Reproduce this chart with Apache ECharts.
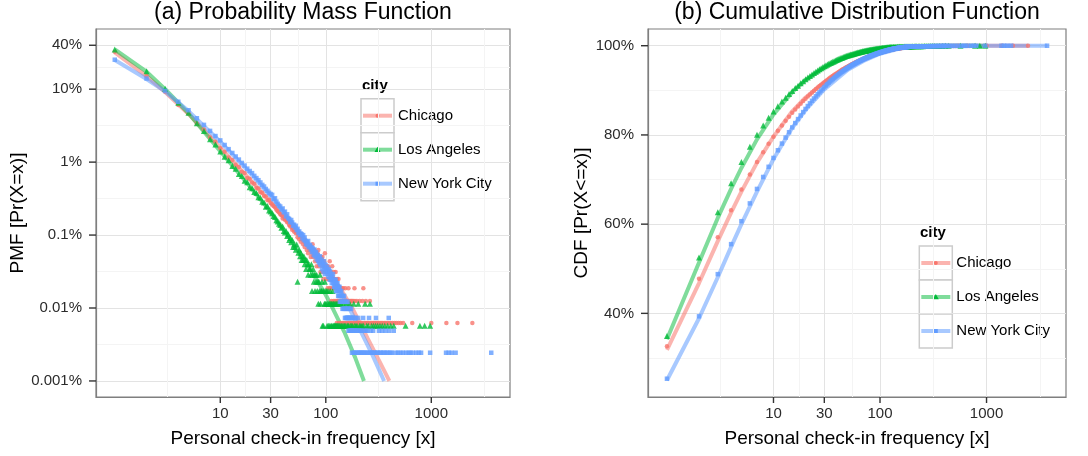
<!DOCTYPE html>
<html><head><meta charset="utf-8">
<script src="https://cdn.jsdelivr.net/npm/echarts@6/dist/echarts.min.js"></script>
<style>html,body{margin:0;padding:0;background:#fff}#c{width:1088px;height:456px}</style>
</head><body><div id="c"></div>
<script>
// ---------------- data ----------------
const cities = ['Chicago', 'Los Angeles', 'New York City'];
const panelTitles = ['(a) Probability Mass Function', '(b) Cumulative Distribution Function'];
const xAxisTitle = 'Personal check-in frequency [x]';
const yAxisTitles = ['PMF [Pr(X=x)]', 'CDF [Pr(X<=x)]'];
const legendTitle = 'city';

const xTickValues = [10, 30, 100, 1000];
const xTickLabels = ['10', '30', '100', '1000'];
const pmfTickValues = [0.4, 0.1, 0.01, 0.001, 0.0001, 0.00001];
const pmfTickLabels = ['40%', '10%', '1%', '0.1%', '0.01%', '0.001%'];
const cdfTickValues = [0.4, 0.6, 0.8, 1.0];
const cdfTickLabels = ['40%', '60%', '80%', '100%'];

// number of users with x check-ins, x = 1..100
const chicagoHead = [
 5230,2430,1490,975,745,540,450,350,305,248,
 222,186,172,146,138,118,114,97,95,84,
 81,71,70,62,61,55,54,48,49,44,
 42,40,39,36,34,33,31,30,27,29,
 26,27,24,25,22,21,23,19,20,18,
 19,17,18,15,17,14,16,13,15,14,
 12,14,11,13,12,10,12,9,11,10,
 11,8,10,9,12,8,9,10,7,9,
 8,6,9,7,10,6,8,7,5,8,
 7,5,8,6,4,7,5,9,6,5];
const laHead = [
 6124,3080,1780,1140,835,598,470,362,305,245,
 208,186,155,142,120,113,97,93,79,77,
 68,66,58,57,50,49,43,44,38,37,
 35,32,31,28,27,25,24,22,23,20,
 19,20,17,18,15,16,14,15,12,13,
 12,11,13,4,10,11,9,10,8,9,
 8,9,7,8,6,8,7,5,7,6,
 6,5,7,3,5,6,4,5,3,5,
 4,5,3,4,2,4,3,5,2,3,
 3,4,1,3,1,3,2,4,2,3];
const nycHead = [
 10400,5740,3880,2760,2110,1640,1330,1100,935,815,
 705,618,548,490,445,400,368,334,310,290,
 266,248,232,216,200,190,176,166,156,150,
 146,128,131,118,110,104,101,92,95,84,
 86,74,79,70,68,62,66,61,55,57,
 52,55,48,50,44,46,41,43,42,37,
 41,35,38,34,31,33,30,34,28,29,
 30,26,28,24,27,25,22,26,21,23,
 24,19,21,22,18,20,17,21,16,18,
 19,14,17,16,13,18,15,12,16,14];

// [x, number of users] for x > 100
const chicagoTail = [
 [101,4],[102,6],[103,5],[104,3],[105,6],[106,4],[107,5],[108,3],[109,7],[110,4],[111,3],[112,5],[113,2],[114,4],[115,6],[116,3],[117,4],[118,2],[119,5],[120,3],
 [121,4],[122,2],[123,3],[124,5],[125,2],[126,3],[127,1],[128,4],[129,2],[130,3],[131,2],[132,4],[133,1],[134,3],[135,2],[136,3],[137,2],[138,1],[139,3],[140,2],
 [141,2],[142,3],[143,1],[144,2],[146,3],[147,1],[148,2],[150,2],[151,1],[153,3],[154,2],[156,1],[157,2],[159,2],[160,1],[162,2],[164,3],[165,1],[167,2],[169,1],[171,2],[173,1],[175,2],[176,1],[178,2],
 [180,1],[182,2],[184,1],[187,3],[189,2],[191,1],[194,1],[197,2],[200,1],[203,1],[206,1],[209,2],[212,1],[216,1],[219,1],[223,2],[227,3],[231,1],[236,1],[240,2],[245,1],[250,1],[256,1],[262,2],
 [268,1],[274,1],[281,1],[287,1],[295,1],[302,1],[310,1],[318,1],[327,1],[336,1],[347,1],[358,1],[370,1],[383,1],[396,1],[412,1],[428,1],[447,1],[466,1],[489,1],[512,1],[541,1],
 [660,1],[1000,1],[1390,1],[1770,1],[2450,1]];
const laTail = [
 [101,2],[102,3],[103,1],[104,2],[105,3],[106,1],[107,2],[108,2],[109,1],[110,3],[111,2],[112,1],[113,2],[114,1],[115,2],[116,3],[117,1],[118,2],[119,1],[120,2],
 [121,1],[122,1],[123,2],[124,1],[125,1],[126,2],[127,1],[128,1],[129,2],[130,1],
 [132,1],[134,2],[135,1],[137,1],[139,2],[141,1],[143,1],[146,2],[148,1],[151,1],[153,1],[156,2],[159,1],[162,1],[165,1],[169,2],[172,1],[176,1],[180,1],[184,2],[188,1],[193,1],[198,1],[203,2],[209,1],[215,1],[221,1],[228,1],[236,2],[244,1],[253,1],[262,2],
 [271,1],[283,1],[296,1],[310,1],[326,1],[343,1],[362,1],[385,1],[412,1],[441,1],[570,1],[780,1],[865,1],[975,1]];
const nycTail = [
 [101,14],[102,13],[103,15],[104,12],[105,13],[106,11],[107,14],[108,12],[109,10],[110,13],[111,11],[112,12],[113,10],[114,9],[115,11],[116,10],[117,12],[118,9],[119,10],[120,8],
 [121,10],[122,9],[123,8],[124,10],[125,7],[126,9],[127,8],[128,7],[129,9],[130,8],[131,6],[132,8],[133,7],[134,6],[135,8],[136,5],[137,7],[138,6],[139,5],[140,7],
 [141,6],[142,5],[143,6],[144,4],[145,6],[146,5],[147,4],[148,5],[149,6],[150,4],[151,5],[152,3],[153,5],[154,4],[155,3],[156,5],[157,4],[158,3],[159,4],[160,3],[161,5],[162,3],[163,4],[164,2],[165,3],[166,4],[167,3],[168,2],[169,4],[170,3],
 [171,2],[172,3],[173,2],[174,4],[175,2],[176,3],[177,1],[178,2],[179,3],[180,2],[182,3],[183,2],[184,1],[186,2],[187,3],[189,2],[190,1],[192,2],[193,3],[195,1],[197,2],[199,2],[201,1],[203,3],[205,2],[207,1],[210,2],[212,1],[214,2],[217,1],[220,2],[223,1],[226,3],[229,1],[232,2],[236,1],[240,2],[244,1],[248,2],[252,1],[257,3],[261,1],
 [266,2],[271,1],[276,1],[281,2],[287,1],[293,1],[299,3],[305,1],[312,1],[319,2],[326,1],[334,1],[342,2],[350,1],[359,1],[368,2],[378,1],[388,1],[395,3],[400,2],[410,1],[422,1],[441,2],
 [460,1],[485,1],[510,1],[540,1],[575,1],[610,1],[635,1],[670,1],[720,1],[760,1],[800,1],[975,1],[1380,1],[1460,1],[1560,1],[1700,1],[3700,1]];

// fitted curves, [x, percent]
const chicagoPmfFit = [[1,32.0],[2,15.1],[3,9.12],[5,4.57],[10,1.58],[20,0.537],[30,0.282],[50,0.1175],[70,0.0661],[100,0.038],[140,0.0178],[178,0.01],[250,0.0038],[320,0.0019],[400,0.001]];
const laPmfFit = [[1,35.0],[2,17.4],[3,10.0],[5,4.68],[10,1.41],[20,0.427],[30,0.209],[50,0.0759],[70,0.0355],[100,0.0151],[116,0.01],[150,0.00468],[190,0.00209],[230,0.001]];
const nycPmfFit = [[1,25.1],[2,13.8],[3,9.33],[5,5.01],[10,1.905],[20,0.661],[30,0.339],[50,0.135],[70,0.0741],[100,0.0398],[130,0.02],[167,0.01],[220,0.00447],[280,0.00219],[357,0.001]];
const chicagoCdfFit = [[1,31.8],[2,46.8],[3,56.2],[4,62.6],[5,67.3],[7,73.8],[10,79.6],[15,85.3],[20,88.4],[30,91.8],[50,95.3],[70,97.0],[100,98.4],[150,99.4],[200,99.75],[300,99.95],[500,100],[2450,100]];
const laCdfFit = [[1,34.2],[2,51.4],[3,61.4],[4,67.9],[5,72.6],[7,79.0],[10,84.6],[15,89.6],[20,92.3],[30,95.1],[50,97.6],[70,98.7],[100,99.4],[150,99.85],[200,99.95],[300,100],[975,100]];
const nycCdfFit = [[1,25.0],[2,38.9],[3,48.1],[4,54.9],[5,60.0],[7,67.3],[10,74.6],[15,81.6],[20,85.6],[30,90.2],[50,94.6],[70,96.6],[100,98.2],[150,99.3],[200,99.7],[300,99.93],[500,100],[3700,100]];

// ---------------- build ----------------
const FONT = "'Liberation Sans', Arial, Helvetica, sans-serif";
const colors = ['#F8766D', '#00BA38', '#619CFF'];
const fade = ['rgba(248,118,109,0.55)', 'rgba(0,186,56,0.5)', 'rgba(97,156,255,0.55)'];
const symbols = ['circle', 'triangle', 'rect'];
const symSizes = [4.5, 6, 4.5];
const lg = Math.log10;

const heads = [chicagoHead, laHead, nycHead];
const tails = [chicagoTail, laTail, nycTail];
const pmfFits = [chicagoPmfFit, laPmfFit, nycPmfFit];
const cdfFits = [chicagoCdfFit, laCdfFit, nycCdfFit];

function counts(i) { return heads[i].map((c, k) => [k + 1, c]).concat(tails[i]); }
function pmfData(i) {
  const cs = counts(i); const n = cs.reduce((s, c) => s + c[1], 0);
  return cs.map(c => [lg(c[0]), lg(c[1] / n)]);
}
function cdfData(i) {
  const cs = counts(i); const n = cs.reduce((s, c) => s + c[1], 0);
  let cum = 0;
  return cs.map(c => { cum += c[1]; return [lg(c[0]), cum / n]; });
}
function minorLog(majorsLog) {
  const s = majorsLog.slice().sort((a, b) => a - b);
  const out = [s[0] - 0.5];
  for (let k = 0; k < s.length - 1; k++) out.push((s[k] + s[k + 1]) / 2);
  out.push(s[s.length - 1] + 0.5);
  return out;
}
function minorLin(majors) {
  const s = majors.slice().sort((a, b) => a - b); const d = s[1] - s[0];
  const out = [s[0] - d / 2];
  for (let k = 0; k < s.length - 1; k++) out.push((s[k] + s[k + 1]) / 2);
  out.push(s[s.length - 1] + d / 2);
  return out;
}
function labeler(vals, labels) {
  return v => { let best = 0; vals.forEach((t, k) => { if (Math.abs(t - v) < Math.abs(vals[best] - v)) best = k; }); return labels[best]; };
}

const xMajor = xTickValues.map(lg), xMinor = minorLog(xMajor);
const pmfMajor = pmfTickValues.map(lg), pmfMinor = minorLog(pmfMajor);
const cdfMinor = minorLin(cdfTickValues);

const xRange = [-0.178, 3.746];
const pmfRange = [-5.22, -0.175];
const cdfRange = [0.2125, 1.0375];

const tickText = { fontSize: 15, color: '#2b2b2b', fontFamily: FONT };
const nameText = { fontSize: 19, color: '#000', fontFamily: FONT };
const majorLine = { color: '#e3e3e3', width: 1 };
const minorLine = { color: '#f4f4f4', width: 1 };
const borderLine = { show: true, onZero: false, lineStyle: { color: '#7f7f7f', width: 1.2 } };

// tick mark drawn as a small filled box inside the tick label (rich text)
function majorX(grid) {
  const lab = labeler(xMajor, xTickLabels);
  return { type: 'value', gridIndex: grid, min: xRange[0], max: xRange[1], position: 'bottom',
    axisLine: borderLine,
    axisTick: { show: false, customValues: xMajor },
    axisLabel: { show: true, customValues: xMajor, margin: 0,
      formatter: v => '{t|}\n{v|' + lab(v) + '}',
      rich: { t: { width: 1.4, height: 6, backgroundColor: '#333', align: 'center' },
              v: { ...tickText, lineHeight: 17, padding: [5, 0, 0, 0], align: 'center' } } },
    splitLine: { show: true, lineStyle: majorLine },
    name: xAxisTitle, nameLocation: 'middle', nameGap: 32, nameTextStyle: nameText };
}
function minorX(grid) {
  return { type: 'value', gridIndex: grid, min: xRange[0], max: xRange[1], position: 'top',
    axisLine: { show: false, onZero: false }, axisTick: { show: false, customValues: xMinor }, axisLabel: { show: false },
    splitLine: { show: true, lineStyle: minorLine } };
}
function majorY(grid, range, majors, labels, name, gap) {
  const lab = labeler(majors, labels);
  return { type: 'value', gridIndex: grid, min: range[0], max: range[1], position: 'left',
    axisLine: borderLine,
    axisTick: { show: false, customValues: majors },
    axisLabel: { show: true, customValues: majors, margin: 0,
      formatter: v => '{v|' + lab(v) + '}{t|}',
      rich: { v: { ...tickText, padding: [0, 7, 0, 0], verticalAlign: 'middle' },
              t: { width: 7, height: 1.4, backgroundColor: '#333', verticalAlign: 'middle' } } },
    splitLine: { show: true, lineStyle: majorLine },
    name: name, nameLocation: 'middle', nameGap: gap, nameTextStyle: nameText };
}
function minorY(grid, range, minors) {
  return { type: 'value', gridIndex: grid, min: range[0], max: range[1], position: 'right',
    axisLine: { show: false, onZero: false }, axisTick: { show: false, customValues: minors }, axisLabel: { show: false },
    splitLine: { show: true, lineStyle: minorLine } };
}

const series = [];
cities.forEach((city, i) => {
  series.push({ name: city, type: 'line', xAxisIndex: 0, yAxisIndex: 0, showSymbol: false, symbol: 'none', silent: true, z: 2,
    lineStyle: { width: 4, color: fade[i] }, data: pmfFits[i].map(p => [lg(p[0]), lg(p[1] / 100)]) });
  series.push({ name: city, type: 'line', xAxisIndex: 2, yAxisIndex: 2, showSymbol: false, symbol: 'none', silent: true, z: 2,
    lineStyle: { width: 4, color: fade[i] }, data: cdfFits[i].map(p => [lg(p[0]), p[1] / 100]) });
});
cities.forEach((city, i) => {
  series.push({ name: city, type: 'scatter', xAxisIndex: 0, yAxisIndex: 0, symbol: symbols[i], symbolSize: symSizes[i], silent: true, z: 3,
    itemStyle: { color: colors[i] }, data: pmfData(i) });
  series.push({ name: city, type: 'scatter', xAxisIndex: 2, yAxisIndex: 2, symbol: symbols[i], symbolSize: symSizes[i], silent: true, z: 3,
    itemStyle: { color: colors[i] }, data: cdfData(i) });
});

// legend drawn as graphic boxes (ggplot style keys)
function legendGroup(id, bg, titlePos, keyX, keyY) {
  const els = [
    { type: 'rect', shape: { x: bg[0], y: bg[1], width: bg[2], height: bg[3] }, style: { fill: '#fff' }, silent: true },
    { type: 'text', x: titlePos[0], y: titlePos[1], style: { text: legendTitle, font: 'bold 15px ' + FONT, fill: '#000', verticalAlign: 'middle' } }
  ];
  cities.forEach((city, i) => {
    const y = keyY + 34 * i, cy = y + 17, cx = keyX + 16.5;
    els.push({ type: 'rect', shape: { x: keyX, y: y, width: 33, height: 34 }, style: { fill: '#fff', stroke: '#cccccc', lineWidth: 1.5 } });
    els.push({ type: 'line', shape: { x1: keyX + 2, y1: cy, x2: keyX + 31, y2: cy }, style: { stroke: fade[i], lineWidth: 4 } });
    if (i === 0) els.push({ type: 'circle', shape: { cx: cx, cy: cy, r: 2 }, style: { fill: colors[i] } });
    if (i === 1) els.push({ type: 'polygon', shape: { points: [[cx, cy - 3], [cx + 3, cy + 2.2], [cx - 3, cy + 2.2]] }, style: { fill: colors[i] } });
    if (i === 2) els.push({ type: 'rect', shape: { x: cx - 2, y: cy - 2, width: 4, height: 4 }, style: { fill: colors[i] } });
    els.push({ type: 'text', x: keyX + 37, y: cy, style: { text: city, font: '15px ' + FONT, fill: '#000', verticalAlign: 'middle' } });
  });
  return { id: id, type: 'group', z: 100, children: els };
}

const option = {
  animation: false,
  backgroundColor: '#fff',
  title: [
    { text: panelTitles[0], left: 303, top: 1, textAlign: 'center', padding: 0, textStyle: { fontSize: 23, fontWeight: 'normal', color: '#000', fontFamily: FONT } },
    { text: panelTitles[1], left: 857, top: 1, textAlign: 'center', padding: 0, textStyle: { fontSize: 23, fontWeight: 'normal', color: '#000', fontFamily: FONT } }
  ],
  grid: [
    { left: 96, top: 29, width: 414, height: 368, show: true, borderColor: '#7f7f7f', borderWidth: 1.2, backgroundColor: '#fff', containLabel: false, outerBoundsMode: 'none' },
    { left: 648, top: 29, width: 418, height: 368, show: true, borderColor: '#7f7f7f', borderWidth: 1.2, backgroundColor: '#fff', containLabel: false, outerBoundsMode: 'none' }
  ],
  xAxis: [majorX(0), minorX(0), majorX(1), minorX(1)],
  yAxis: [
    majorY(0, pmfRange, pmfMajor, pmfTickLabels, yAxisTitles[0], 68),
    minorY(0, pmfRange, pmfMinor),
    majorY(1, cdfRange, cdfTickValues, cdfTickLabels, yAxisTitles[1], 55),
    minorY(1, cdfRange, cdfMinor)
  ],
  series: series,
  graphic: [
    legendGroup('legA', [355, 75, 148, 130], [362, 86], 361, 98.7),
    legendGroup('legB', [912, 218, 152, 139], [920, 233], 919.3, 246)
  ]
};
const chart = echarts.init(document.getElementById('c'));
chart.setOption(option);
</script></body></html>
